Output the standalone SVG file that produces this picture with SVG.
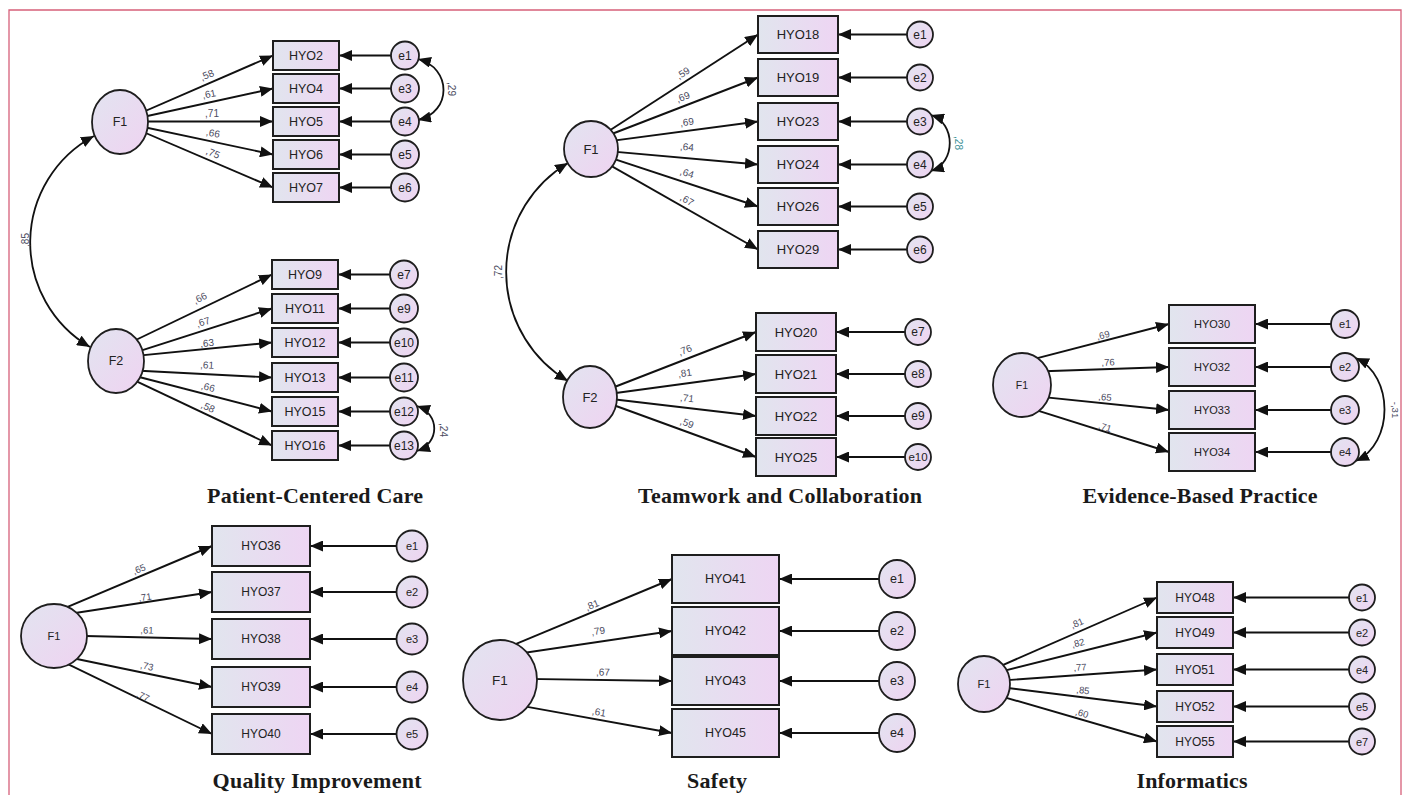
<svg xmlns="http://www.w3.org/2000/svg" width="1407" height="795" viewBox="0 0 1407 795">
<style>
.box{fill:url(#gBox);stroke:#1e1e1e;stroke-width:2}
.lat{fill:url(#gLat);stroke:#1e1e1e;stroke-width:1.8}
.ln{fill:none;stroke:#111;stroke-width:1.9;marker-end:url(#ah)}
.cov{fill:none;stroke:#111;stroke-width:1.8;marker-start:url(#ah);marker-end:url(#ah)}
.t{font-family:"Liberation Sans",Arial,sans-serif;fill:#222;text-anchor:middle;dominant-baseline:central}
.w{font-family:"Liberation Sans",Arial,sans-serif;font-size:10px;fill:#4a4a5e;text-anchor:middle}
.ws{font-size:9.5px}
.title{font-family:"Liberation Serif","Times New Roman",serif;font-weight:bold;font-size:22px;fill:#1a1a1a;text-anchor:middle}
</style>
<defs>
<linearGradient id="gBox" x1="0" y1="0" x2="1" y2="0"><stop offset="0" stop-color="#e1e5ee"/><stop offset="1" stop-color="#eed5f3"/></linearGradient>
<linearGradient id="gLat" x1="0" y1="0" x2="1" y2="1"><stop offset="0" stop-color="#e2e4f0"/><stop offset="1" stop-color="#efd3f1"/></linearGradient>
<marker id="ah" markerUnits="userSpaceOnUse" markerWidth="13" markerHeight="11" refX="13" refY="5.5" orient="auto-start-reverse"><path d="M0,0 L13,5.5 L0,11 z" fill="#111"/></marker>
</defs>
<rect width="1407" height="795" fill="#fff"/>
<path d="M9,795 V10 H1401 V795" fill="none" stroke="#d6607a" stroke-width="1.3"/>

<g id="connectors">
 <!-- Patient-Centered Care -->
 <path class="ln" d="M120,122 L273,55.5"/>
 <path class="ln" d="M120,122 L273,88.5"/>
 <path class="ln" d="M120,121.5 L273,121.5"/>
 <path class="ln" d="M120,122 L273,154.5"/>
 <path class="ln" d="M120,122 L273,187.5"/>
 <path class="ln" d="M405,55.5 L339,55.5"/>
 <path class="ln" d="M405,88.5 L339,88.5"/>
 <path class="ln" d="M405,121.5 L339,121.5"/>
 <path class="ln" d="M405,154.5 L339,154.5"/>
 <path class="ln" d="M405,187.5 L339,187.5"/>
 <path class="cov" d="M418,59 C452,68 452,112 418,120"/>
 <path class="ln" d="M116,349.5 L272,274.5"/>
 <path class="ln" d="M116,358.7 L272,308.5"/>
 <path class="ln" d="M116,357.9 L272,342.5"/>
 <path class="ln" d="M116,369.5 L272,377.5"/>
 <path class="ln" d="M116,371 L272,411.5"/>
 <path class="ln" d="M116,371.6 L272,445.5"/>
 <path class="ln" d="M404,274.5 L338,274.5"/>
 <path class="ln" d="M404,308.5 L338,308.5"/>
 <path class="ln" d="M404,342.5 L338,342.5"/>
 <path class="ln" d="M404,377.5 L338,377.5"/>
 <path class="ln" d="M404,411.5 L338,411.5"/>
 <path class="ln" d="M404,445.5 L338,445.5"/>
 <path class="cov" d="M417,406 C440,414 440,443 417,451"/>
 <path class="cov" d="M94,136 A121,121 0 0 0 90,347"/>
 <!-- Teamwork -->
 <path class="ln" d="M591,142.5 L758,34.5"/>
 <path class="ln" d="M591,142 L758,77.5"/>
 <path class="ln" d="M591,143.6 L758,121.5"/>
 <path class="ln" d="M591,149.6 L758,164.5"/>
 <path class="ln" d="M591,151.4 L758,206.5"/>
 <path class="ln" d="M591,154.3 L758,249.5"/>
 <path class="ln" d="M920,34.5 L838,34.5"/>
 <path class="ln" d="M920,77.5 L838,77.5"/>
 <path class="ln" d="M920,121.5 L838,121.5"/>
 <path class="ln" d="M920,164.5 L838,164.5"/>
 <path class="ln" d="M920,206.5 L838,206.5"/>
 <path class="ln" d="M920,249.5 L838,249.5"/>
 <path class="cov" d="M931,115 C956,123 956,163 931,171"/>
 <path class="ln" d="M590,396.5 L756,332"/>
 <path class="ln" d="M590,396.5 L756,374"/>
 <path class="ln" d="M590,396.5 L756,416"/>
 <path class="ln" d="M590,396.5 L756,457"/>
 <path class="ln" d="M918,332 L836,332"/>
 <path class="ln" d="M918,374 L836,374"/>
 <path class="ln" d="M918,416 L836,416"/>
 <path class="ln" d="M918,457 L836,457"/>
 <path class="cov" d="M568,163 A127,127 0 0 0 568,381"/>
 <!-- Evidence-Based Practice -->
 <path class="ln" d="M1022,362.2 L1169,324"/>
 <path class="ln" d="M1022,372 L1169,367"/>
 <path class="ln" d="M1022,394.9 L1169,410"/>
 <path class="ln" d="M1022,405.7 L1169,452"/>
 <path class="ln" d="M1345,324 L1255,324"/>
 <path class="ln" d="M1345,367 L1255,367"/>
 <path class="ln" d="M1345,410 L1255,410"/>
 <path class="ln" d="M1345,452 L1255,452"/>
 <path class="cov" d="M1356,358 C1394,376 1394,443 1356,461"/>
 <!-- Quality Improvement -->
 <path class="ln" d="M54,612.6 L212,546"/>
 <path class="ln" d="M54,616.3 L212,592"/>
 <path class="ln" d="M54,635.2 L212,639"/>
 <path class="ln" d="M54,654.2 L212,687"/>
 <path class="ln" d="M54,657.3 L212,734"/>
 <path class="ln" d="M412,546 L310,546"/>
 <path class="ln" d="M412,592 L310,592"/>
 <path class="ln" d="M412,639 L310,639"/>
 <path class="ln" d="M412,687 L310,687"/>
 <path class="ln" d="M412,734 L310,734"/>
 <!-- Safety -->
 <path class="ln" d="M500,650.5 L672,579"/>
 <path class="ln" d="M500,656.4 L672,631"/>
 <path class="ln" d="M500,678.5 L672,681"/>
 <path class="ln" d="M500,701.9 L672,733"/>
 <path class="ln" d="M897,579 L779,579"/>
 <path class="ln" d="M897,631 L779,631"/>
 <path class="ln" d="M897,681 L779,681"/>
 <path class="ln" d="M897,733 L779,733"/>
 <!-- Informatics -->
 <path class="ln" d="M984,673.3 L1157,597.5"/>
 <path class="ln" d="M984,675.8 L1157,632.5"/>
 <path class="ln" d="M984,681.8 L1157,669.5"/>
 <path class="ln" d="M984,685 L1157,706.5"/>
 <path class="ln" d="M984,691.3 L1157,741.5"/>
 <path class="ln" d="M1362,597.5 L1233,597.5"/>
 <path class="ln" d="M1362,632.5 L1233,632.5"/>
 <path class="ln" d="M1362,669.5 L1233,669.5"/>
 <path class="ln" d="M1362,706.5 L1233,706.5"/>
 <path class="ln" d="M1362,741.5 L1233,741.5"/>
</g>

<g id="edge-labels">
 <text class="w" transform="translate(207,75) rotate(-23.4)" y="3.5">,58</text>
 <text class="w" transform="translate(209,94) rotate(-12)" y="3.5">,61</text>
 <text class="w" transform="translate(212,113)" y="3.5">,71</text>
 <text class="w" transform="translate(213,133) rotate(11.1)" y="3.5">,66</text>
 <text class="w" transform="translate(213,153) rotate(22.6)" y="3.5">,75</text>
 <text class="w" transform="translate(451,89) rotate(90)" y="3.5">,29</text>
 <text class="w" transform="translate(200,298) rotate(-25.7)" y="3.5">,66</text>
 <text class="w" transform="translate(203,322) rotate(-17.8)" y="3.5">,67</text>
 <text class="w" transform="translate(207,343) rotate(-5.6)" y="3.5">,63</text>
 <text class="w" transform="translate(207,365) rotate(2.9)" y="3.5">,61</text>
 <text class="w" transform="translate(208,387) rotate(14.6)" y="3.5">,66</text>
 <text class="w" transform="translate(208,407) rotate(25.3)" y="3.5">,58</text>
 <text class="w" transform="translate(443,430) rotate(90)" y="3.5">,24</text>
 <text class="w" transform="translate(25,240) rotate(-90)" y="3.5">,85</text>

 <text class="w" transform="translate(683,73) rotate(-32.9)" y="3.5">,59</text>
 <text class="w" transform="translate(683,97) rotate(-21.1)" y="3.5">,69</text>
 <text class="w" transform="translate(687,122) rotate(-7.5)" y="3.5">,69</text>
 <text class="w" transform="translate(687,147) rotate(5.1)" y="3.5">,64</text>
 <text class="w" transform="translate(687,173) rotate(18.3)" y="3.5">,64</text>
 <text class="w" transform="translate(687,200) rotate(29.7)" y="3.5">,67</text>
 <text class="w" transform="translate(958,143) rotate(90)" y="3.5" style="fill:#3b8f96">,28</text>
 <text class="w" transform="translate(685,350) rotate(-21.2)" y="3.5">,76</text>
 <text class="w" transform="translate(685,373) rotate(-7.7)" y="3.5">,81</text>
 <text class="w" transform="translate(687,398) rotate(6.7)" y="3.5">,71</text>
 <text class="w" transform="translate(687,423) rotate(20)" y="3.5">,59</text>
 <text class="w" transform="translate(498,272) rotate(-90)" y="3.5">,72</text>

 <text class="w ws" transform="translate(1103,335) rotate(-14.6)" y="3.5">,69</text>
 <text class="w ws" transform="translate(1108,362) rotate(-2)" y="3.5">,76</text>
 <text class="w ws" transform="translate(1105,397) rotate(5.9)" y="3.5">,65</text>
 <text class="w ws" transform="translate(1105,427) rotate(17.5)" y="3.5">,71</text>
 <text class="w ws" transform="translate(1395,410) rotate(90)" y="3.5">-,31</text>

 <text class="w ws" transform="translate(139,569) rotate(-22.9)" y="3.5">,65</text>
 <text class="w ws" transform="translate(145,597) rotate(-8.7)" y="3.5">,71</text>
 <text class="w ws" transform="translate(147,630) rotate(1.4)" y="3.5">,61</text>
 <text class="w ws" transform="translate(147,666) rotate(11.7)" y="3.5">,73</text>
 <text class="w ws" transform="translate(143,696) rotate(25.9)" y="3.5">,77</text>

 <text class="w" transform="translate(592,605) rotate(-22.6)" y="3.5">,81</text>
 <text class="w" transform="translate(598,631) rotate(-8.4)" y="3.5">,79</text>
 <text class="w" transform="translate(603,672) rotate(0.8)" y="3.5">,67</text>
 <text class="w" transform="translate(599,712) rotate(10.2)" y="3.5">,61</text>

 <text class="w ws" transform="translate(1077,623) rotate(-23.7)" y="3.5">,81</text>
 <text class="w ws" transform="translate(1078,643) rotate(-14)" y="3.5">,82</text>
 <text class="w ws" transform="translate(1080,667) rotate(-4.1)" y="3.5">,77</text>
 <text class="w ws" transform="translate(1083,690) rotate(7.1)" y="3.5">,85</text>
 <text class="w ws" transform="translate(1082,713) rotate(16.2)" y="3.5">,60</text>
</g>

<!-- Patient-Centered Care nodes -->
<g id="pcc-F1"><ellipse class="lat" cx="120" cy="122" rx="28" ry="32"/><text class="t" x="120" y="122" font-size="12.5">F1</text></g>
<g id="pcc-F2"><ellipse class="lat" cx="116" cy="361" rx="28" ry="32"/><text class="t" x="116" y="361" font-size="12.5">F2</text></g>
<g id="pcc-HYO2"><rect class="box" x="273" y="41" width="66" height="29"/><text class="t" x="306" y="55.5" font-size="12.5">HYO2</text></g>
<g id="pcc-HYO4"><rect class="box" x="273" y="74" width="66" height="29"/><text class="t" x="306" y="88.5" font-size="12.5">HYO4</text></g>
<g id="pcc-HYO5"><rect class="box" x="273" y="107" width="66" height="29"/><text class="t" x="306" y="121.5" font-size="12.5">HYO5</text></g>
<g id="pcc-HYO6"><rect class="box" x="273" y="140" width="66" height="29"/><text class="t" x="306" y="154.5" font-size="12.5">HYO6</text></g>
<g id="pcc-HYO7"><rect class="box" x="273" y="173" width="66" height="29"/><text class="t" x="306" y="187.5" font-size="12.5">HYO7</text></g>
<g id="pcc-e1"><circle class="lat" cx="405" cy="55.5" r="14"/><text class="t" x="405" y="55.5" font-size="12">e1</text></g>
<g id="pcc-e3"><circle class="lat" cx="405" cy="88.5" r="14"/><text class="t" x="405" y="88.5" font-size="12">e3</text></g>
<g id="pcc-e4"><circle class="lat" cx="405" cy="121.5" r="14"/><text class="t" x="405" y="121.5" font-size="12">e4</text></g>
<g id="pcc-e5"><circle class="lat" cx="405" cy="154.5" r="14"/><text class="t" x="405" y="154.5" font-size="12">e5</text></g>
<g id="pcc-e6"><circle class="lat" cx="405" cy="187.5" r="14"/><text class="t" x="405" y="187.5" font-size="12">e6</text></g>
<g id="pcc-HYO9"><rect class="box" x="272" y="260" width="66" height="29"/><text class="t" x="305" y="274.5" font-size="12.5">HYO9</text></g>
<g id="pcc-HYO11"><rect class="box" x="272" y="294" width="66" height="29"/><text class="t" x="305" y="308.5" font-size="12.5">HYO11</text></g>
<g id="pcc-HYO12"><rect class="box" x="272" y="328" width="66" height="29"/><text class="t" x="305" y="342.5" font-size="12.5">HYO12</text></g>
<g id="pcc-HYO13"><rect class="box" x="272" y="363" width="66" height="29"/><text class="t" x="305" y="377.5" font-size="12.5">HYO13</text></g>
<g id="pcc-HYO15"><rect class="box" x="272" y="397" width="66" height="29"/><text class="t" x="305" y="411.5" font-size="12.5">HYO15</text></g>
<g id="pcc-HYO16"><rect class="box" x="272" y="431" width="66" height="29"/><text class="t" x="305" y="445.5" font-size="12.5">HYO16</text></g>
<g id="pcc-e7"><circle class="lat" cx="404" cy="274.5" r="14"/><text class="t" x="404" y="274.5" font-size="12">e7</text></g>
<g id="pcc-e9"><circle class="lat" cx="404" cy="308.5" r="14"/><text class="t" x="404" y="308.5" font-size="12">e9</text></g>
<g id="pcc-e10"><circle class="lat" cx="404" cy="342.5" r="14"/><text class="t" x="404" y="342.5" font-size="12">e10</text></g>
<g id="pcc-e11"><circle class="lat" cx="404" cy="377.5" r="14"/><text class="t" x="404" y="377.5" font-size="12">e11</text></g>
<g id="pcc-e12"><circle class="lat" cx="404" cy="411.5" r="14"/><text class="t" x="404" y="411.5" font-size="12">e12</text></g>
<g id="pcc-e13"><circle class="lat" cx="404" cy="445.5" r="14"/><text class="t" x="404" y="445.5" font-size="12">e13</text></g>
<g id="title-pcc"><text class="title" x="315" y="503" textLength="216" lengthAdjust="spacing">Patient-Centered Care</text></g>

<!-- Teamwork and Collaboration nodes -->
<g id="tw-F1"><ellipse class="lat" cx="591" cy="149" rx="27" ry="28"/><text class="t" x="591" y="149" font-size="13">F1</text></g>
<g id="tw-F2"><ellipse class="lat" cx="590" cy="397" rx="27" ry="31"/><text class="t" x="590" y="397" font-size="13">F2</text></g>
<g id="tw-HYO18"><rect class="box" x="758" y="16" width="80" height="37"/><text class="t" x="798" y="34.5" font-size="13">HYO18</text></g>
<g id="tw-HYO19"><rect class="box" x="758" y="59" width="80" height="37"/><text class="t" x="798" y="77.5" font-size="13">HYO19</text></g>
<g id="tw-HYO23"><rect class="box" x="758" y="103" width="80" height="37"/><text class="t" x="798" y="121.5" font-size="13">HYO23</text></g>
<g id="tw-HYO24"><rect class="box" x="758" y="146" width="80" height="37"/><text class="t" x="798" y="164.5" font-size="13">HYO24</text></g>
<g id="tw-HYO26"><rect class="box" x="758" y="188" width="80" height="37"/><text class="t" x="798" y="206.5" font-size="13">HYO26</text></g>
<g id="tw-HYO29"><rect class="box" x="758" y="231" width="80" height="37"/><text class="t" x="798" y="249.5" font-size="13">HYO29</text></g>
<g id="tw-e1"><circle class="lat" cx="920" cy="34.5" r="13"/><text class="t" x="920" y="34.5" font-size="12">e1</text></g>
<g id="tw-e2"><circle class="lat" cx="920" cy="77.5" r="13"/><text class="t" x="920" y="77.5" font-size="12">e2</text></g>
<g id="tw-e3"><circle class="lat" cx="920" cy="121.5" r="13"/><text class="t" x="920" y="121.5" font-size="12">e3</text></g>
<g id="tw-e4"><circle class="lat" cx="920" cy="164.5" r="13"/><text class="t" x="920" y="164.5" font-size="12">e4</text></g>
<g id="tw-e5"><circle class="lat" cx="920" cy="206.5" r="13"/><text class="t" x="920" y="206.5" font-size="12">e5</text></g>
<g id="tw-e6"><circle class="lat" cx="920" cy="249.5" r="13"/><text class="t" x="920" y="249.5" font-size="12">e6</text></g>
<g id="tw-HYO20"><rect class="box" x="756" y="313" width="80" height="38"/><text class="t" x="796" y="332" font-size="13">HYO20</text></g>
<g id="tw-HYO21"><rect class="box" x="756" y="355" width="80" height="38"/><text class="t" x="796" y="374" font-size="13">HYO21</text></g>
<g id="tw-HYO22"><rect class="box" x="756" y="397" width="80" height="38"/><text class="t" x="796" y="416" font-size="13">HYO22</text></g>
<g id="tw-HYO25"><rect class="box" x="756" y="438" width="80" height="38"/><text class="t" x="796" y="457" font-size="13">HYO25</text></g>
<g id="tw-e7"><circle class="lat" cx="918" cy="332" r="13"/><text class="t" x="918" y="332" font-size="12">e7</text></g>
<g id="tw-e8"><circle class="lat" cx="918" cy="374" r="13"/><text class="t" x="918" y="374" font-size="12">e8</text></g>
<g id="tw-e9"><circle class="lat" cx="918" cy="416" r="13"/><text class="t" x="918" y="416" font-size="12">e9</text></g>
<g id="tw-e10"><circle class="lat" cx="918" cy="457" r="13"/><text class="t" x="918" y="457" font-size="11.5">e10</text></g>
<g id="title-tw"><text class="title" x="780" y="503" textLength="284" lengthAdjust="spacing">Teamwork and Collaboration</text></g>

<!-- Evidence-Based Practice nodes -->
<g id="ebp-F1"><ellipse class="lat" cx="1022" cy="385" rx="29" ry="32"/><text class="t" x="1022" y="385" font-size="10.5">F1</text></g>
<g id="ebp-HYO30"><rect class="box" x="1169" y="305" width="86" height="38"/><text class="t" x="1212" y="324" font-size="11">HYO30</text></g>
<g id="ebp-HYO32"><rect class="box" x="1169" y="348" width="86" height="38"/><text class="t" x="1212" y="367" font-size="11">HYO32</text></g>
<g id="ebp-HYO33"><rect class="box" x="1169" y="391" width="86" height="38"/><text class="t" x="1212" y="410" font-size="11">HYO33</text></g>
<g id="ebp-HYO34"><rect class="box" x="1169" y="433" width="86" height="38"/><text class="t" x="1212" y="452" font-size="11">HYO34</text></g>
<g id="ebp-e1"><circle class="lat" cx="1345" cy="324" r="14"/><text class="t" x="1345" y="324" font-size="11">e1</text></g>
<g id="ebp-e2"><circle class="lat" cx="1345" cy="367" r="14"/><text class="t" x="1345" y="367" font-size="11">e2</text></g>
<g id="ebp-e3"><circle class="lat" cx="1345" cy="410" r="14"/><text class="t" x="1345" y="410" font-size="11">e3</text></g>
<g id="ebp-e4"><circle class="lat" cx="1345" cy="452" r="14"/><text class="t" x="1345" y="452" font-size="11">e4</text></g>
<g id="title-ebp"><text class="title" x="1200" y="503" textLength="235" lengthAdjust="spacing">Evidence-Based Practice</text></g>

<!-- Quality Improvement nodes -->
<g id="qi-F1"><ellipse class="lat" cx="54" cy="636" rx="33" ry="32"/><text class="t" x="54" y="636" font-size="11">F1</text></g>
<g id="qi-HYO36"><rect class="box" x="212" y="526" width="98" height="40"/><text class="t" x="261" y="546" font-size="12">HYO36</text></g>
<g id="qi-HYO37"><rect class="box" x="212" y="572" width="98" height="40"/><text class="t" x="261" y="592" font-size="12">HYO37</text></g>
<g id="qi-HYO38"><rect class="box" x="212" y="619" width="98" height="40"/><text class="t" x="261" y="639" font-size="12">HYO38</text></g>
<g id="qi-HYO39"><rect class="box" x="212" y="667" width="98" height="40"/><text class="t" x="261" y="687" font-size="12">HYO39</text></g>
<g id="qi-HYO40"><rect class="box" x="212" y="714" width="98" height="40"/><text class="t" x="261" y="734" font-size="12">HYO40</text></g>
<g id="qi-e1"><circle class="lat" cx="412" cy="546" r="15.5"/><text class="t" x="412" y="546" font-size="11">e1</text></g>
<g id="qi-e2"><circle class="lat" cx="412" cy="592" r="15.5"/><text class="t" x="412" y="592" font-size="11">e2</text></g>
<g id="qi-e3"><circle class="lat" cx="412" cy="639" r="15.5"/><text class="t" x="412" y="639" font-size="11">e3</text></g>
<g id="qi-e4"><circle class="lat" cx="412" cy="687" r="15.5"/><text class="t" x="412" y="687" font-size="11">e4</text></g>
<g id="qi-e5"><circle class="lat" cx="412" cy="734" r="15.5"/><text class="t" x="412" y="734" font-size="11">e5</text></g>
<g id="title-qi"><text class="title" x="317" y="788" textLength="209" lengthAdjust="spacing">Quality Improvement</text></g>

<!-- Safety nodes -->
<g id="saf-F1"><ellipse class="lat" cx="500" cy="680" rx="37" ry="40"/><text class="t" x="500" y="680" font-size="13.5">F1</text></g>
<g id="saf-HYO41"><rect class="box" x="672" y="555" width="107" height="48"/><text class="t" x="725.5" y="579" font-size="12.5">HYO41</text></g>
<g id="saf-HYO42"><rect class="box" x="672" y="607" width="107" height="48"/><text class="t" x="725.5" y="631" font-size="12.5">HYO42</text></g>
<g id="saf-HYO43"><rect class="box" x="672" y="657" width="107" height="48"/><text class="t" x="725.5" y="681" font-size="12.5">HYO43</text></g>
<g id="saf-HYO45"><rect class="box" x="672" y="709" width="107" height="48"/><text class="t" x="725.5" y="733" font-size="12.5">HYO45</text></g>
<g id="saf-e1"><ellipse class="lat" cx="897" cy="579" rx="18" ry="19"/><text class="t" x="897" y="579" font-size="12.5">e1</text></g>
<g id="saf-e2"><ellipse class="lat" cx="897" cy="631" rx="18" ry="19"/><text class="t" x="897" y="631" font-size="12.5">e2</text></g>
<g id="saf-e3"><ellipse class="lat" cx="897" cy="681" rx="18" ry="19"/><text class="t" x="897" y="681" font-size="12.5">e3</text></g>
<g id="saf-e4"><ellipse class="lat" cx="897" cy="733" rx="18" ry="19"/><text class="t" x="897" y="733" font-size="12.5">e4</text></g>
<g id="title-saf"><text class="title" x="717" y="788" textLength="60" lengthAdjust="spacing">Safety</text></g>

<!-- Informatics nodes -->
<g id="inf-F1"><ellipse class="lat" cx="984" cy="684" rx="26" ry="28"/><text class="t" x="984" y="684" font-size="11">F1</text></g>
<g id="inf-HYO48"><rect class="box" x="1157" y="582" width="76" height="31"/><text class="t" x="1195" y="597.5" font-size="12">HYO48</text></g>
<g id="inf-HYO49"><rect class="box" x="1157" y="617" width="76" height="31"/><text class="t" x="1195" y="632.5" font-size="12">HYO49</text></g>
<g id="inf-HYO51"><rect class="box" x="1157" y="654" width="76" height="31"/><text class="t" x="1195" y="669.5" font-size="12">HYO51</text></g>
<g id="inf-HYO52"><rect class="box" x="1157" y="691" width="76" height="31"/><text class="t" x="1195" y="706.5" font-size="12">HYO52</text></g>
<g id="inf-HYO55"><rect class="box" x="1157" y="726" width="76" height="31"/><text class="t" x="1195" y="741.5" font-size="12">HYO55</text></g>
<g id="inf-e1"><circle class="lat" cx="1362" cy="597.5" r="13"/><text class="t" x="1362" y="597.5" font-size="11">e1</text></g>
<g id="inf-e2"><circle class="lat" cx="1362" cy="632.5" r="13"/><text class="t" x="1362" y="632.5" font-size="11">e2</text></g>
<g id="inf-e4"><circle class="lat" cx="1362" cy="669.5" r="13"/><text class="t" x="1362" y="669.5" font-size="11">e4</text></g>
<g id="inf-e5"><circle class="lat" cx="1362" cy="706.5" r="13"/><text class="t" x="1362" y="706.5" font-size="11">e5</text></g>
<g id="inf-e7"><circle class="lat" cx="1362" cy="741.5" r="13"/><text class="t" x="1362" y="741.5" font-size="11">e7</text></g>
<g id="title-inf"><text class="title" x="1192" y="788" textLength="111" lengthAdjust="spacing">Informatics</text></g>
</svg>
